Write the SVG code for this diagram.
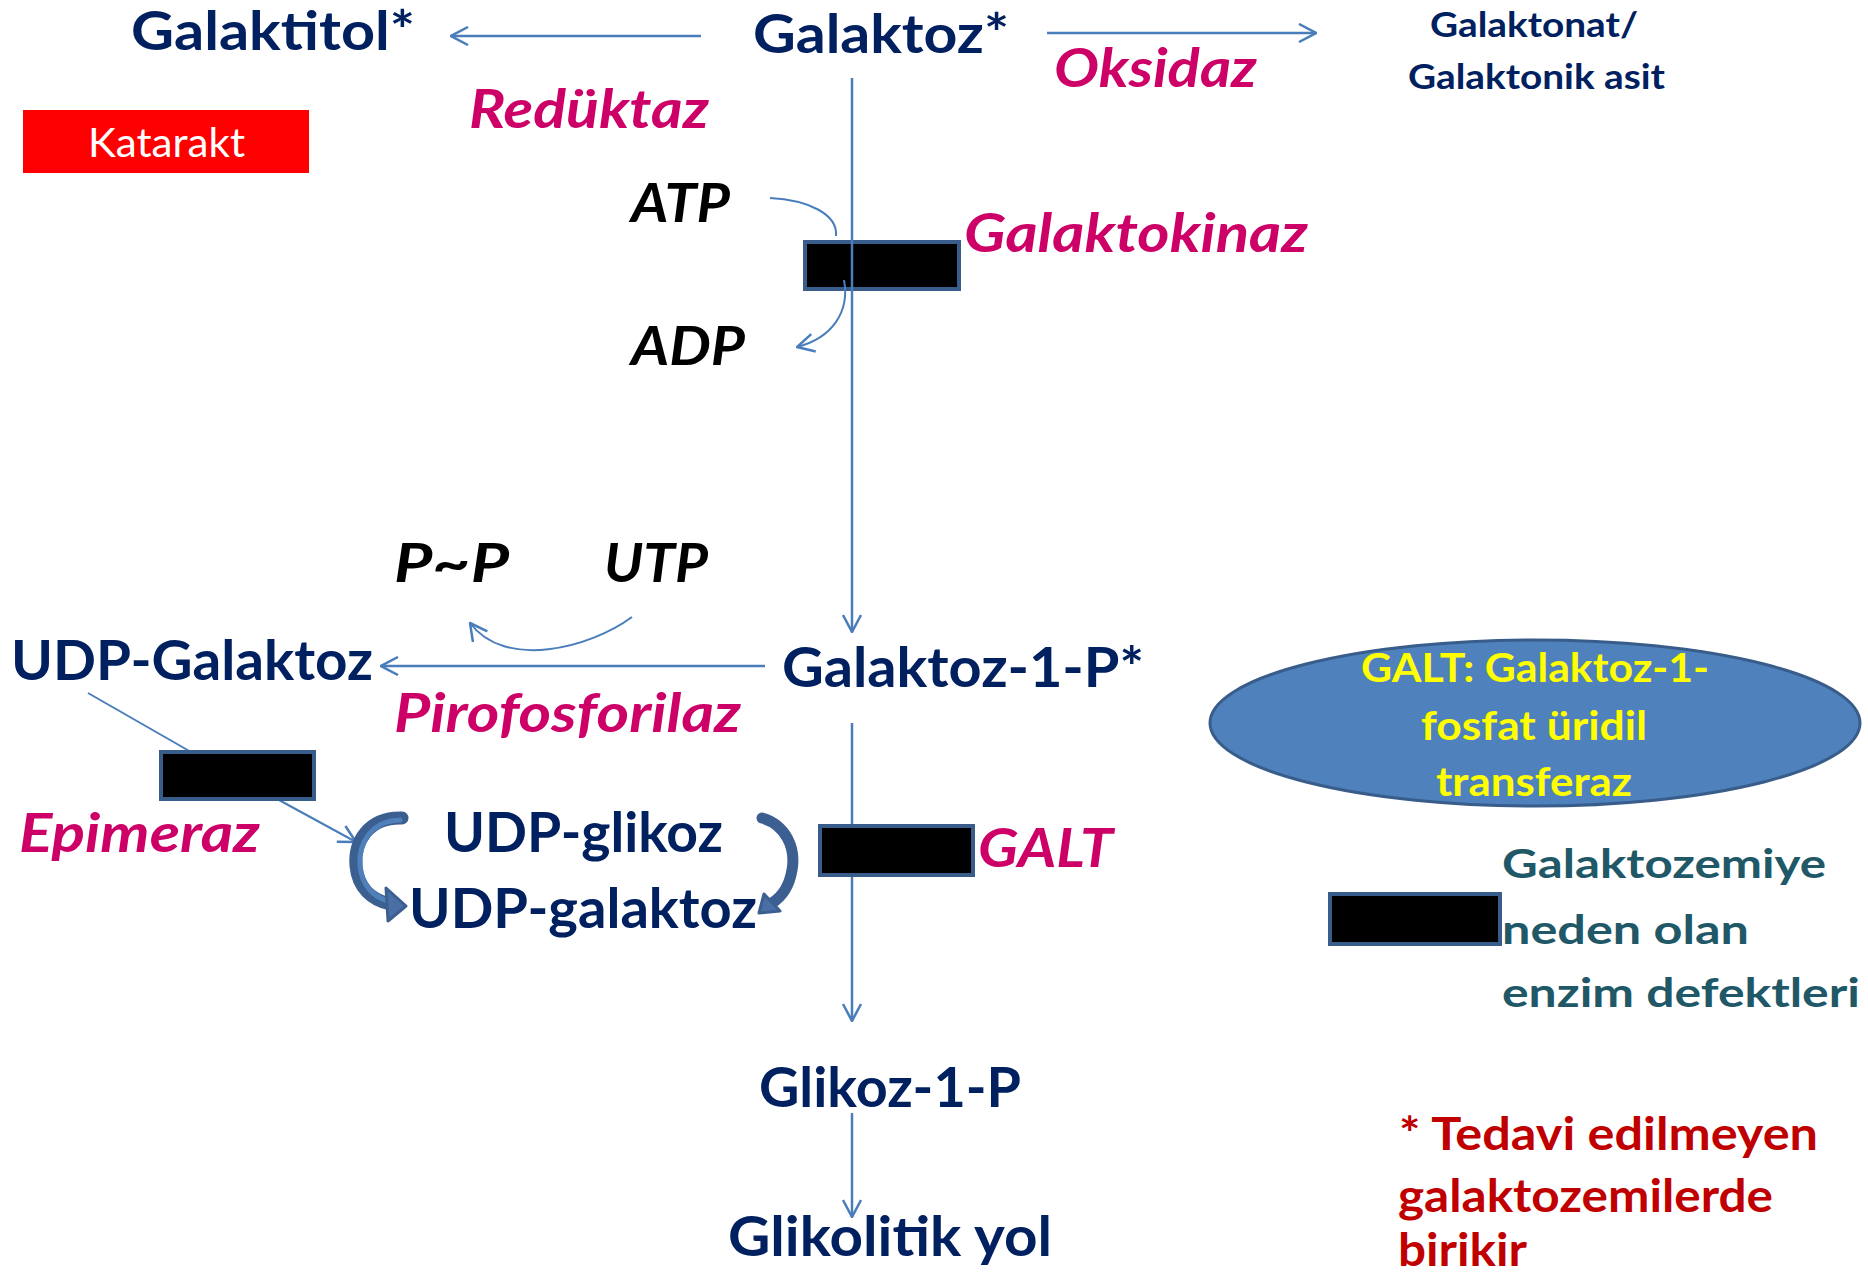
<svg xmlns="http://www.w3.org/2000/svg" width="1868" height="1279" viewBox="0 0 1868 1279">
<style>
text{font-family:Lato,"Open Sans","Liberation Sans",sans-serif;font-weight:bold}
.nv{fill:#002060}
.en{fill:#CC0066;font-style:italic}
.bk{fill:#000;font-style:italic}
.yl{fill:#FFFF00;font-size:40px}
.lg{fill:#215868;font-size:40px}
.rd{fill:#C00000;font-size:45px}
.ln{fill:none;stroke:#4A7EBB;stroke-width:2.5}
.thin{fill:none;stroke:#4A7EBB;stroke-width:2}
.blk{fill:#000;stroke:#385D8A;stroke-width:4}
.ca{fill:none;stroke:#3C5F91;stroke-width:13;stroke-linecap:round}
.cb{fill:none;stroke:#5080BA;stroke-width:5;stroke-linecap:round}
</style>
<defs>
<marker id="ah" viewBox="0 0 20 20" refX="19" refY="10" markerWidth="20" markerHeight="20" markerUnits="userSpaceOnUse" orient="auto">
<path d="M2,1 L19,10 L2,19" fill="none" stroke="#4A7EBB" stroke-width="2.5"/>
</marker>
</defs>
<rect width="1868" height="1279" fill="#fff"/>

<g id="galaktokinaz-box"><rect class="blk" x="805" y="242" width="154" height="47"/></g>

<g id="connectors">
<line class="ln" x1="701" y1="36" x2="451" y2="36" marker-end="url(#ah)"/>
<line class="ln" x1="1047" y1="33" x2="1316" y2="33" marker-end="url(#ah)"/>
<line class="ln" x1="852" y1="78" x2="852" y2="632" marker-end="url(#ah)"/>
<path class="thin" d="M770,198 C808,200 838,214 836,236"/>
<path class="thin" d="M844,280 C850,312 832,338 797,347" marker-end="url(#ah)"/>
<path class="thin" d="M632,617 C590,648 505,670 470,623" marker-end="url(#ah)"/>
<line class="ln" x1="765" y1="666" x2="381" y2="666" marker-end="url(#ah)"/>
<line class="thin" x1="88" y1="693" x2="191" y2="752"/>
<line class="thin" x1="279" y1="800" x2="356" y2="842" marker-end="url(#ah)"/>
<line class="ln" x1="852" y1="723" x2="852" y2="1021" marker-end="url(#ah)"/>
<line class="ln" x1="852" y1="1113" x2="852" y2="1217" marker-end="url(#ah)"/>
<path class="ca" d="M402,818 C368,817 354,842 356,866 C358,888 372,900 390,904"/>
<path class="cb" d="M400,820 C370,821 358,845 360,866 C362,886 374,897 388,901"/>
<polygon points="406,906 386,888 388,921" fill="#4A6FA5" stroke="#3C5F91" stroke-width="3" stroke-linejoin="round"/>
<path class="ca" d="M762,818 C786,825 796,848 792,870 C789,888 780,898 772,903" style="stroke-width:11"/>
<polygon points="759,913 764,894 780,911" fill="#4A6FA5" stroke="#3C5F91" stroke-width="3" stroke-linejoin="round"/>
</g>

<g id="galaktitol"><text class="nv" x="131" y="50" font-size="53" textLength="284" lengthAdjust="spacingAndGlyphs">Galaktitol*</text></g>
<g id="galaktoz"><text class="nv" x="753" y="53" font-size="53" textLength="256" lengthAdjust="spacingAndGlyphs">Galaktoz*</text></g>
<g id="galaktonat">
<text class="nv" x="1430" y="37" font-size="35" textLength="208" lengthAdjust="spacingAndGlyphs">Galaktonat/</text>
<text class="nv" x="1408" y="89" font-size="35" textLength="257" lengthAdjust="spacingAndGlyphs">Galaktonik asit</text>
</g>
<g id="reduktaz"><text class="en" x="469" y="128" font-size="54" textLength="240" lengthAdjust="spacingAndGlyphs">Redüktaz</text></g>
<g id="oksidaz"><text class="en" x="1054" y="87" font-size="54" textLength="203" lengthAdjust="spacingAndGlyphs">Oksidaz</text></g>
<g id="katarakt">
<rect x="23" y="110" width="286" height="63" fill="#FF0000"/>
<text x="88" y="157" font-size="40" fill="#fff" style="font-weight:normal" textLength="157" lengthAdjust="spacingAndGlyphs">Katarakt</text>
</g>
<g id="atp"><text class="bk" x="631" y="222" font-size="54" textLength="99" lengthAdjust="spacingAndGlyphs">ATP</text></g>
<g id="adp"><text class="bk" x="631" y="365" font-size="54" textLength="114" lengthAdjust="spacingAndGlyphs">ADP</text></g>
<g id="galaktokinaz"><text class="en" x="964" y="252" font-size="54" textLength="344" lengthAdjust="spacingAndGlyphs">Galaktokinaz</text></g>
<g id="ppi"><text class="bk" x="394" y="582" font-size="54" textLength="115" lengthAdjust="spacingAndGlyphs">P~P</text></g>
<g id="utp"><text class="bk" x="604" y="582" font-size="54" textLength="104" lengthAdjust="spacingAndGlyphs">UTP</text></g>
<g id="udp-galaktoz"><text class="nv" x="11" y="680" font-size="55" textLength="362" lengthAdjust="spacingAndGlyphs">UDP-Galaktoz</text></g>
<g id="galaktoz-1-p"><text class="nv" x="782" y="687" font-size="55" textLength="362" lengthAdjust="spacingAndGlyphs">Galaktoz-1-P*</text></g>
<g id="pirofosforilaz"><text class="en" x="394" y="732" font-size="54" textLength="347" lengthAdjust="spacingAndGlyphs">Pirofosforilaz</text></g>
<g id="epimeraz-box"><rect class="blk" x="161" y="752" width="153" height="47"/></g>
<g id="epimeraz"><text class="en" x="19" y="852" font-size="54" textLength="241" lengthAdjust="spacingAndGlyphs">Epimeraz</text></g>
<g id="udp-glikoz"><text class="nv" x="444" y="852" font-size="55" textLength="279" lengthAdjust="spacingAndGlyphs">UDP-glikoz</text></g>
<g id="udp-galaktoz-2"><text class="nv" x="409" y="928" font-size="55" textLength="348" lengthAdjust="spacingAndGlyphs">UDP-galaktoz</text></g>
<g id="galt-box"><rect class="blk" x="820" y="826" width="153" height="49"/></g>
<g id="galt"><text class="en" x="978" y="867" font-size="54" textLength="135" lengthAdjust="spacingAndGlyphs">GALT</text></g>
<g id="glikoz-1-p"><text class="nv" x="759" y="1107" font-size="55" textLength="262" lengthAdjust="spacingAndGlyphs">Glikoz-1-P</text></g>
<g id="glikolitik-yol"><text class="nv" x="728" y="1256" font-size="55" textLength="324" lengthAdjust="spacingAndGlyphs">Glikolitik yol</text></g>
<g id="galt-ellipse">
<ellipse cx="1535" cy="723" rx="325" ry="83" fill="#4F81BD" stroke="#385D8A" stroke-width="3"/>
<text class="yl" x="1361" y="682" textLength="348" lengthAdjust="spacingAndGlyphs">GALT: Galaktoz-1-</text>
<text class="yl" x="1421" y="740" textLength="226" lengthAdjust="spacingAndGlyphs">fosfat üridil</text>
<text class="yl" x="1436" y="796" textLength="196" lengthAdjust="spacingAndGlyphs">transferaz</text>
</g>
<g id="legend">
<rect class="blk" x="1330" y="894" width="170" height="50"/>
<text class="lg" x="1502" y="878" textLength="324" lengthAdjust="spacingAndGlyphs">Galaktozemiye</text>
<text class="lg" x="1502" y="944" textLength="247" lengthAdjust="spacingAndGlyphs">neden olan</text>
<text class="lg" x="1502" y="1007" textLength="358" lengthAdjust="spacingAndGlyphs">enzim defektleri</text>
</g>
<g id="note">
<text class="rd" x="1399" y="1150" textLength="419" lengthAdjust="spacingAndGlyphs">* Tedavi edilmeyen</text>
<text class="rd" x="1398" y="1212" textLength="375" lengthAdjust="spacingAndGlyphs">galaktozemilerde</text>
<text class="rd" x="1398" y="1266" textLength="129" lengthAdjust="spacingAndGlyphs">birikir</text>
</g>
</svg>
